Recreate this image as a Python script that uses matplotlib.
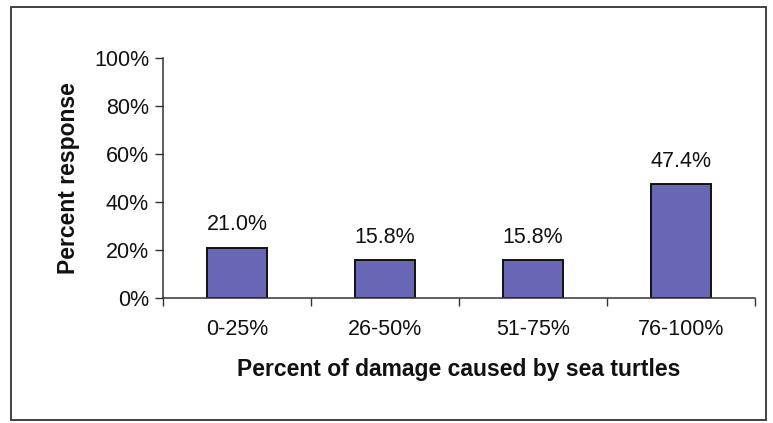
import matplotlib.pyplot as plt
from matplotlib.patches import Rectangle
from matplotlib.ticker import FixedLocator, FuncFormatter

categories = ["0-25%", "26-50%", "51-75%", "76-100%"]
values = [21.0, 15.8, 15.8, 47.4]
y_ticks = [0, 20, 40, 60, 80, 100]

plt.rcParams["font.family"] = ["Liberation Sans", "DejaVu Sans"]

W, H = 773, 423
fig = plt.figure(figsize=(W / 100, H / 100), dpi=100)

# outer chart frame
fig.patches.append(Rectangle((11 / W, 1 - 420 / H), 755 / W, 413 / H,
                             transform=fig.transFigure, fill=False,
                             edgecolor="#333333", linewidth=1.3))

ax = fig.add_axes([163 / W, 1 - 298 / H, (755 - 163) / W, 240 / H])

x = range(len(categories))
ax.bar(x, values, width=0.41, color="#6767b5", edgecolor="#111111", linewidth=1.4)

for i, v in enumerate(values):
    ax.annotate(f"{v:.1f}%", (i, v), xytext=(0, 9), textcoords="offset points",
                ha="center", va="bottom", fontsize=15.5, color="#111111")

ax.set_xlim(-0.5, len(categories) - 0.5)
ax.set_ylim(0, 100)
ax.set_yticks(y_ticks)
ax.yaxis.set_major_formatter(FuncFormatter(lambda v, p: f"{v:.0f}%"))

# ticks between categories, labels at centers
ax.xaxis.set_major_locator(FixedLocator([i - 0.5 for i in range(len(categories) + 1)]))
ax.xaxis.set_minor_locator(FixedLocator(list(x)))
ax.set_xticklabels([])
ax.set_xticklabels(categories, minor=True)
ax.tick_params(axis="x", which="major", length=6, width=1, color="#333333")
ax.tick_params(axis="x", which="minor", length=0, pad=15, labelsize=15.5, labelcolor="#111111")
ax.tick_params(axis="y", length=6, width=1, color="#333333", pad=4,
               labelsize=15.5, labelcolor="#111111")

for side in ["top", "right"]:
    ax.spines[side].set_visible(False)
for side in ["left", "bottom"]:
    ax.spines[side].set_color("#333333")
    ax.spines[side].set_linewidth(1.1)

ax.set_xlabel("Percent of damage caused by sea turtles", fontsize=16.5,
              fontweight="bold", labelpad=13, color="#111111")
ax.set_ylabel("Percent response", fontsize=16.5, fontweight="bold",
              labelpad=10, color="#111111")

fig.savefig("out.png", dpi=100)
